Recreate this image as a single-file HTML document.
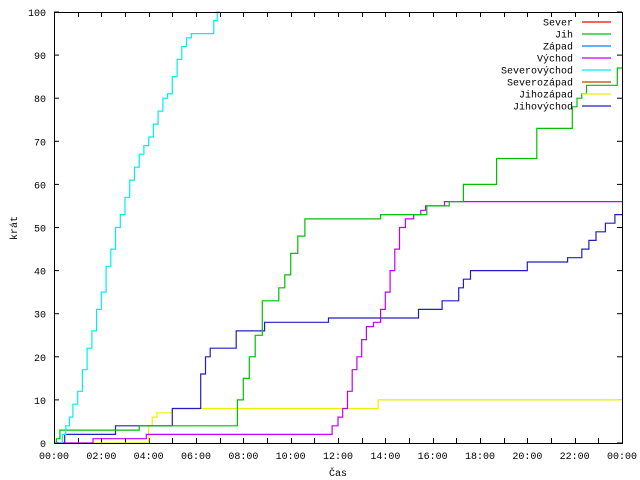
<!DOCTYPE html>
<html><head><meta charset="utf-8"><style>
body{margin:0;background:#fff}
svg{display:block}
text{font-family:"Liberation Mono",monospace;font-size:10px;fill:#000}
</style></head><body>
<svg id="chart" width="640" height="480" xmlns="http://www.w3.org/2000/svg"></svg>
<script>
const seriesNames=["Sever","Jih","Západ","Východ","Severovýchod","Severozápad","Jihozápad","Jihovýchod"];
const seriesColors=["#ff0000","#00c000","#0080ff","#c000ff","#00eeee","#c04000","#eeee00","#2020c0"];
const yTicks=[0,10,20,30,40,50,60,70,80,90,100];
const xTickLabels=["00:00","02:00","04:00","06:00","08:00","10:00","12:00","14:00","16:00","18:00","20:00","22:00","00:00"];
// times in hours, values counts (step series)
const severT=[],severV=[];
const zapadT=[],zapadV=[];
const severozapadT=[],severozapadV=[];
const jihT=[0,0.1,0.25,3.5,3.6,7.6,7.75,8.0,8.25,8.5,8.8,9.25,9.5,9.75,10.0,10.3,10.6,13.7,13.8,15.6,15.75,16.1,16.7,17.2,17.3,18.6,18.7,20.2,20.4,21.8,21.9,22.1,22.3,22.5,23.6,23.8,24];
const jihV=[0,1,3,3,4,4,10,15,20,25,33,33,36,39,44,48,52,52,53,53,55,55,56,56,60,60,66,66,73,73,78,80,81,83,83,87,87];
const vychodT=[0,1.65,3.8,3.9,11.6,11.75,12.0,12.2,12.4,12.6,12.8,13.0,13.2,13.5,13.8,14.0,14.2,14.4,14.6,14.85,15.2,15.5,15.7,16.3,16.5,24];
const vychodV=[0,1,1,2,2,4,6,8,12,17,20,24,27,28,31,35,40,45,50,52,53,54,55,55,56,56];
const severovychodT=[0.2,0.35,0.5,0.65,0.8,1.0,1.2,1.4,1.6,1.8,2.0,2.2,2.4,2.6,2.8,3.0,3.2,3.4,3.6,3.8,4.0,4.2,4.4,4.6,4.8,5.0,5.2,5.4,5.6,5.8,6.0,6.6,6.75,6.9,7.0];
const severovychodV=[0,2,4,6,9,12,17,22,26,31,35,41,45,50,53,57,61,64,67,69,71,74,77,80,81,85,89,92,94,95,95,95,98,100,100];
const jihozapadT=[0,3.9,4.0,4.15,4.35,4.7,5.0,13.6,13.7,24];
const jihozapadV=[0,0,4,6,7,7,8,8,10,10];
const jihovychodT=[0,0.35,0.45,2.5,2.6,4.85,5.0,5.3,6.0,6.2,6.4,6.6,7.5,7.7,8.7,8.9,11.5,11.6,15.3,15.4,16.3,16.4,16.9,17.1,17.3,17.6,17.9,19.8,20.0,21.5,21.7,22.1,22.3,22.6,22.9,23.3,23.7,24];
const jihovychodV=[0,0,2,2,4,4,8,8,8,16,20,22,22,26,26,28,28,29,29,31,31,33,33,36,38,40,40,40,42,42,43,43,45,47,49,51,53,53];

const X0=54,X1=622,Y0=443,Y1=12;
const sx=h=>X0+(X1-X0)*h/24;
const sy=v=>Y0-(Y0-Y1)*v/100;
const svg=document.getElementById('chart');
const NS="http://www.w3.org/2000/svg";
function mk(tag,attrs){const e=document.createElementNS(NS,tag);for(const k in attrs)e.setAttribute(k,attrs[k]);svg.appendChild(e);return e;}

// ticks
for(let i=0;i<yTicks.length;i++){
  const y=sy(yTicks[i]);
  const t=mk('line',{x1:X0,y1:y,x2:X0+5,y2:y,stroke:'#000'});
  
  
  const t2=mk('line',{x1:X1,y1:y,x2:X1-5,y2:y,stroke:'#000'});
  
  
  const l=mk('text',{x:X0-8,y:y+4,'text-anchor':'end'});
  
  
  l.textContent=yTicks[i];
}
for(let h=0;h<=24;h++){
  const x=Math.round(sx(h))+0.5;
  const t=mk('line',{x1:x,y1:Y0,x2:x,y2:Y0-5,stroke:'#000'});
  
  
  const t2=mk('line',{x1:x,y1:Y1,x2:x,y2:Y1+5,stroke:'#000'});
  
  
}
for(let i=0;i<xTickLabels.length;i++){
  const l=mk('text',{x:sx(i*2),y:Y0+16,'text-anchor':'middle'});
  
  
  l.textContent=xTickLabels[i];
}
const yt=mk('text',{x:17,y:228,'text-anchor':'middle',transform:'rotate(-90 17 228)'});


yt.textContent='krát';
const xt=mk('text',{x:338,y:476,'text-anchor':'middle'});


xt.textContent='Čas';

const data=[[severT,severV],[jihT,jihV],[zapadT,zapadV],[vychodT,vychodV],[severovychodT,severovychodV],[severozapadT,severozapadV],[jihozapadT,jihozapadV],[jihovychodT,jihovychodV]];
const drawOrder=[6,7,3,1,4,0,2,5];
for(const i of drawOrder){
  const [T,V]=data[i];
  if(!T.length)continue;
  let d='M'+sx(T[0]).toFixed(1)+','+sy(V[0]).toFixed(1);
  for(let k=1;k<T.length;k++){
    d+=' H'+sx(T[k]).toFixed(1)+' V'+sy(V[k]).toFixed(1);
  }
  const p=mk('path',{d:d,fill:'none',stroke:seriesColors[i],'stroke-width':1.2});
  
  
}
// border
const b=mk('rect',{x:X0+0.5,y:Y1+0.5,width:X1-X0,height:Y0-Y1,fill:'none',stroke:'#000'});


// legend
for(let i=0;i<seriesNames.length;i++){
  const y=22+i*12;
  const l=mk('text',{x:573,y:y+3.5,'text-anchor':'end'});
  
  
  l.textContent=seriesNames[i];
  const s=mk('line',{x1:582,y1:y,x2:611,y2:y,stroke:seriesColors[i],'stroke-width':1.2});
  
  
}
</script>
</body></html>
